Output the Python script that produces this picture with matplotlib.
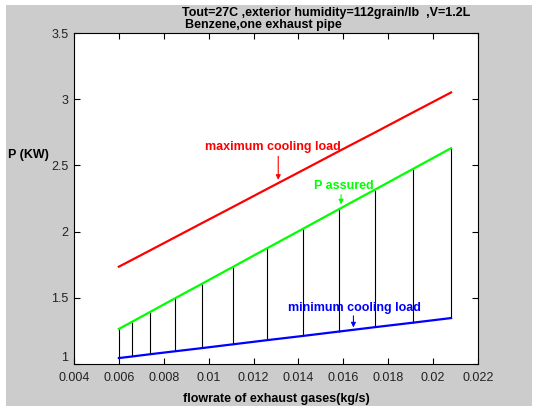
import matplotlib
matplotlib.use('Agg')
import matplotlib.pyplot as plt
from matplotlib.patches import Rectangle

# flowrate of exhaust gases (kg/s) and power values (kW)
flow = [0.006, 0.0066, 0.0074, 0.0085, 0.0097, 0.0111, 0.0126, 0.0142, 0.0158, 0.0174, 0.0191, 0.0208]
p_max = [1.735, 1.788, 1.859, 1.957, 2.064, 2.188, 2.322, 2.464, 2.607, 2.748, 2.900, 3.051]
p_assured = [1.265, 1.32, 1.394, 1.496, 1.606, 1.735, 1.874, 2.021, 2.169, 2.316, 2.473, 2.63]
p_min = [1.045, 1.057, 1.074, 1.096, 1.12, 1.149, 1.18, 1.212, 1.245, 1.278, 1.312, 1.347]

xticks = [0.004, 0.006, 0.008, 0.01, 0.012, 0.014, 0.016, 0.018, 0.02, 0.022]
xticklabels = ['0.004', '0.006', '0.008', '0.01', '0.012', '0.014', '0.016', '0.018', '0.02', '0.022']
yticks = [1, 1.5, 2, 2.5, 3, 3.5]
yticklabels = ['1', '1.5', '2', '2.5', '3', '3.5']

plt.rcParams['font.family'] = ['Liberation Sans', 'DejaVu Sans']

fig = plt.figure(figsize=(5.36, 4.09), dpi=100, facecolor='white')
bg = Rectangle((6/536, 3/409), 526/536, 401/409, transform=fig.transFigure,
               facecolor='#cccccc', edgecolor='none', zorder=-10)
fig.patches.append(bg)
ax = fig.add_axes([74/536, 1 - 364/409, 404/536, 331/409])
ax.set_facecolor('white')

# vertical hatch lines between minimum load and assured power
ax.vlines(flow, p_min, p_assured, colors='black', linewidth=0.8)

ax.plot(flow, p_max, color='#ff0000', linewidth=1.6)
ax.plot(flow, p_assured, color='#00ff00', linewidth=1.6)
ax.plot(flow, p_min, color='#0000ff', linewidth=1.6)

# annotations with arrows
ax.annotate('', xy=(0.0131, 2.37), xytext=(0.0131, 2.59),
            arrowprops=dict(arrowstyle='-|>', color='#ff0000', lw=0.8, mutation_scale=7))
ax.text(0.01285, 2.64, 'maximum cooling load', color='#ff0000', fontsize=9, fontweight='bold',
        ha='center', va='center')

ax.annotate('', xy=(0.0159, 2.185), xytext=(0.0159, 2.30),
            arrowprops=dict(arrowstyle='-|>', color='#00ff00', lw=0.8, mutation_scale=7))
ax.text(0.0160, 2.345, 'P assured', color='#00ff00', fontsize=9, fontweight='bold',
        ha='center', va='center')

ax.annotate('', xy=(0.01645, 1.255), xytext=(0.01645, 1.385),
            arrowprops=dict(arrowstyle='-|>', color='#0000ff', lw=0.8, mutation_scale=7))
ax.text(0.0165, 1.423, 'minimum cooling load', color='#0000ff', fontsize=9, fontweight='bold',
        ha='center', va='center')

ax.set_xlim(0.004, 0.022)
ax.set_ylim(1, 3.5)
ax.set_xticks(xticks)
ax.set_xticklabels(xticklabels, fontsize=9)
ax.set_yticks(yticks)
ax.set_yticklabels(yticklabels, fontsize=9)
ax.tick_params(direction='in', top=True, right=True, length=4, width=0.8, pad=4, labelcolor='#222222')
ax.tick_params(axis='x', pad=6)
ax.get_yticklabels()[0].set_va('bottom')
for s in ax.spines.values():
    s.set_linewidth(0.8)

ax.set_xlabel('flowrate of exhaust gases(kg/s)', fontsize=9, fontweight='bold', labelpad=6)
fig.text(8/536, 1 - 155/409, 'P (KW)', fontsize=9, fontweight='bold', ha='left', va='center')

fig.text(182/536, 1 - 13/409, 'Tout=27C ,exterior humidity=112grain/lb  ,V=1.2L',
         fontsize=9, fontweight='bold', ha='left', va='center')
fig.text(185/536, 1 - 25/409, 'Benzene,one exhaust pipe',
         fontsize=9, fontweight='bold', ha='left', va='center')

fig.savefig('out.png', dpi=100, facecolor=fig.get_facecolor())
